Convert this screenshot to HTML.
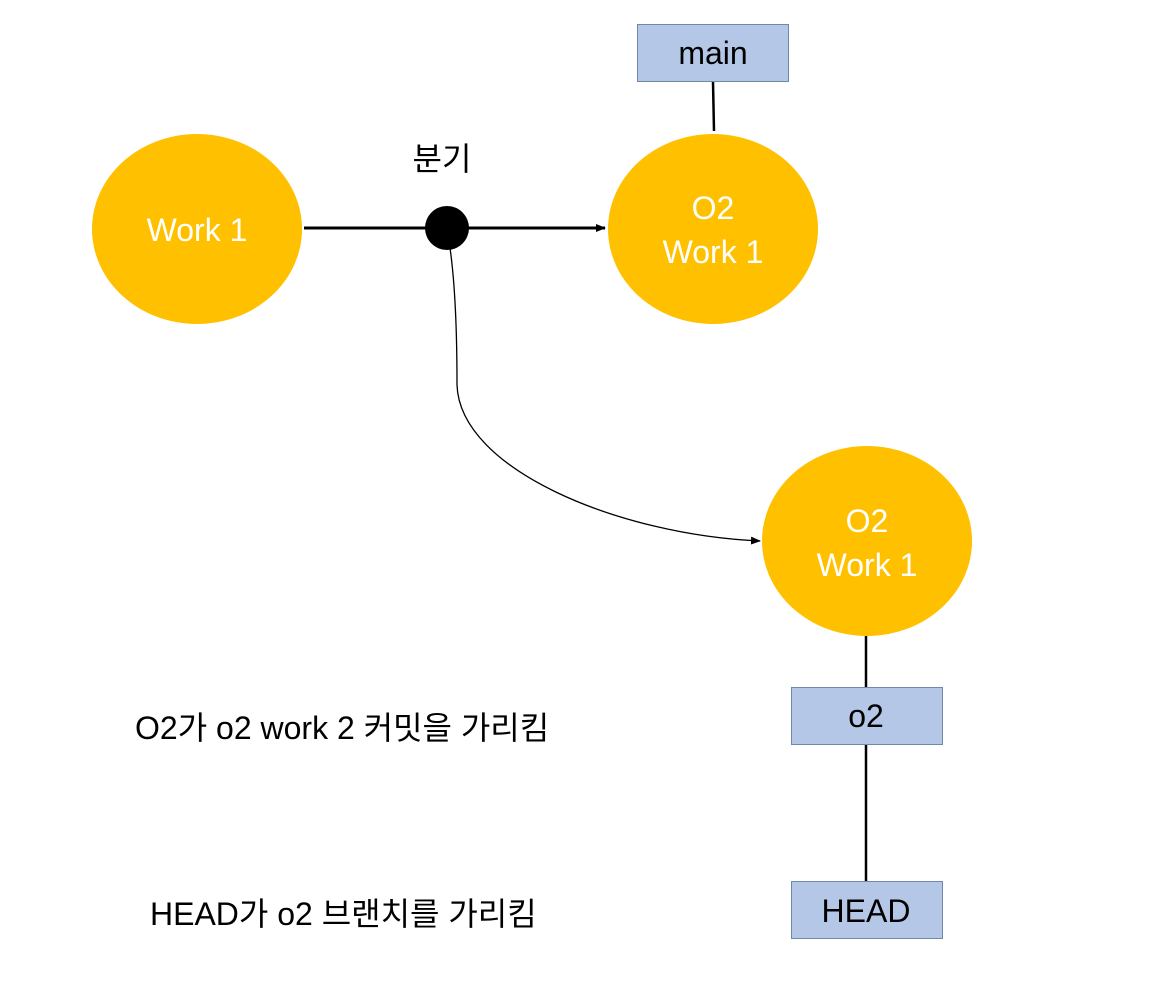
<!DOCTYPE html>
<html><head><meta charset="utf-8"><style>
html,body{margin:0;padding:0;background:#fff;width:1176px;height:983px;overflow:hidden}
</style></head><body>
<svg width="1176" height="983" viewBox="0 0 1176 983" xmlns="http://www.w3.org/2000/svg" style="font-family:'Liberation Sans','Noto Sans CJK KR',sans-serif">
<defs>
<marker id="a" markerWidth="10" markerHeight="8" refX="9" refY="4" orient="auto" markerUnits="userSpaceOnUse"><path d="M0,0 L10,4 L0,8 z" fill="#000"/></marker>
</defs>
<ellipse cx="197" cy="229" rx="105" ry="95" fill="#FFC000"/>
<ellipse cx="713" cy="229" rx="105" ry="95" fill="#FFC000"/>
<ellipse cx="867" cy="541" rx="105" ry="95" fill="#FFC000"/>
<line x1="304" y1="228" x2="426" y2="228" stroke="#000" stroke-width="3"/>
<line x1="468" y1="228" x2="605" y2="228" stroke="#000" stroke-width="3" marker-end="url(#a)"/>
<circle cx="447" cy="228" r="22" fill="#000"/>
<path d="M450,248 C456,290 457,340 457,385 C460,470 620,535 760,541" fill="none" stroke="#000" stroke-width="1.3" marker-end="url(#a)"/>
<line x1="713" y1="82" x2="714" y2="131" stroke="#000" stroke-width="2.5"/>
<line x1="866" y1="636" x2="866" y2="687" stroke="#000" stroke-width="2.5"/>
<line x1="866" y1="745" x2="866" y2="881" stroke="#000" stroke-width="2.5"/>
<rect x="637.5" y="24.5" width="151" height="57" fill="#B4C7E7" stroke="#6F88A8"/>
<rect x="791.5" y="687.5" width="151" height="57" fill="#B4C7E7" stroke="#6F88A8"/>
<rect x="791.5" y="881.5" width="151" height="57" fill="#B4C7E7" stroke="#6F88A8"/>
<g font-size="32" fill="#fff" text-anchor="middle">
<text x="197" y="241">Work 1</text>
<text x="713" y="219">O2</text>
<text x="713" y="263">Work 1</text>
<text x="867" y="532">O2</text>
<text x="867" y="576">Work 1</text>
</g>
<g font-size="32" fill="#000" text-anchor="middle">
<text x="713" y="64">main</text>
<text x="866" y="727">o2</text>
<text x="866" y="922">HEAD</text>
<text x="442" y="170">분기</text>
</g>
<g font-size="32" fill="#000">
<text x="135" y="739">O2가 o2 work 2 커밋을 가리킴</text>
<text x="150" y="925">HEAD가 o2 브랜치를 가리킴</text>
</g>
</svg>
</body></html>
